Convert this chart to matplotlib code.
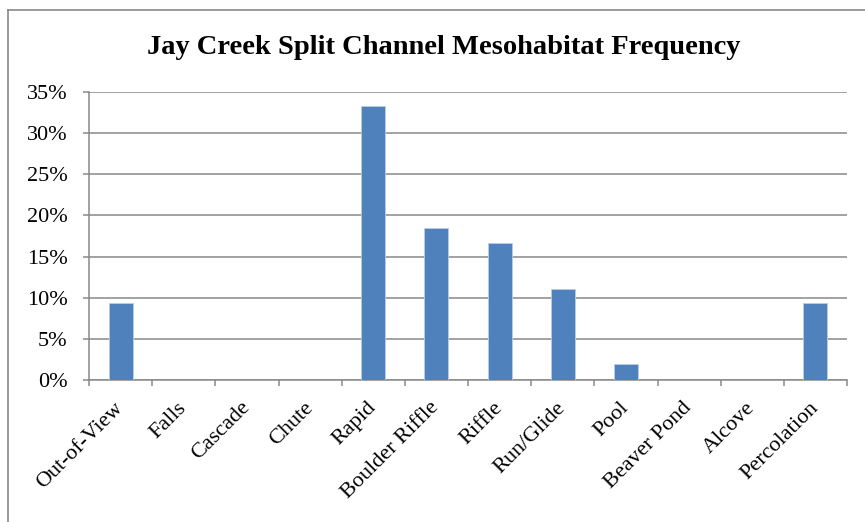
import matplotlib.pyplot as plt
from matplotlib.lines import Line2D
from matplotlib.ticker import FuncFormatter

# mesohabitat categories and their share of units (%)
categories = ["Out-of-View", "Falls", "Cascade", "Chute", "Rapid", "Boulder Riffle",
              "Riffle", "Run/Glide", "Pool", "Beaver Pond", "Alcove", "Percolation"]
frequency = [9.3, 0.0, 0.0, 0.0, 33.3, 18.5, 16.7, 11.1, 1.9, 0.0, 0.0, 9.3]
y_ticks = [0, 5, 10, 15, 20, 25, 30, 35]

plt.rcParams["font.family"] = ["Liberation Serif", "DejaVu Serif"]
grey = "#898989"

fig = plt.figure(figsize=(8.65, 5.22), dpi=100)
ax = fig.add_axes([89 / 865, 1 - 380 / 522, 758 / 865, 288 / 522])

x = list(range(len(categories)))
ax.bar(x, frequency, width=0.38, color="#4F81BD", edgecolor="#B9CDE5",
       linewidth=0.6, zorder=3)

ax.set_xlim(-0.5, len(categories) - 0.5)
ax.set_ylim(0, 35)
ax.set_yticks(y_ticks)
ax.yaxis.set_major_formatter(FuncFormatter(lambda v, _: f"{v:.0f}%"))
ax.grid(axis="y", color=grey, linewidth=1.1, zorder=0)

# category labels centered, boundary ticks like a spreadsheet chart
ax.set_xticks(x)
ax.set_xticklabels(categories, rotation=45, ha="right", va="center",
                   rotation_mode="anchor", fontsize=16)
ax.tick_params(axis="x", length=0, pad=18)
ax.set_xticks([i - 0.5 for i in range(len(categories) + 1)], minor=True)
ax.tick_params(axis="x", which="minor", length=4.5, width=1.1, color=grey, direction="out")
ax.tick_params(axis="y", length=4.5, width=1.1, color=grey, labelsize=16, pad=11)

for side in ["top", "right"]:
    ax.spines[side].set_visible(False)
for side in ["left", "bottom"]:
    ax.spines[side].set_color(grey)
    ax.spines[side].set_linewidth(1.1)

fig.text(0.513, 1 - 47 / 522, "Jay Creek Split Channel Mesohabitat Frequency",
         ha="center", va="center", fontsize=20.5, fontweight="bold")

# chart area frame (top and left edges visible in the source)
fig.add_artist(Line2D([8 / 865, 1], [1 - 10 / 522] * 2, color=grey, linewidth=1.2))
fig.add_artist(Line2D([8 / 865] * 2, [0, 1 - 10 / 522], color=grey, linewidth=1.2))

fig.savefig("out.png", dpi=100)
